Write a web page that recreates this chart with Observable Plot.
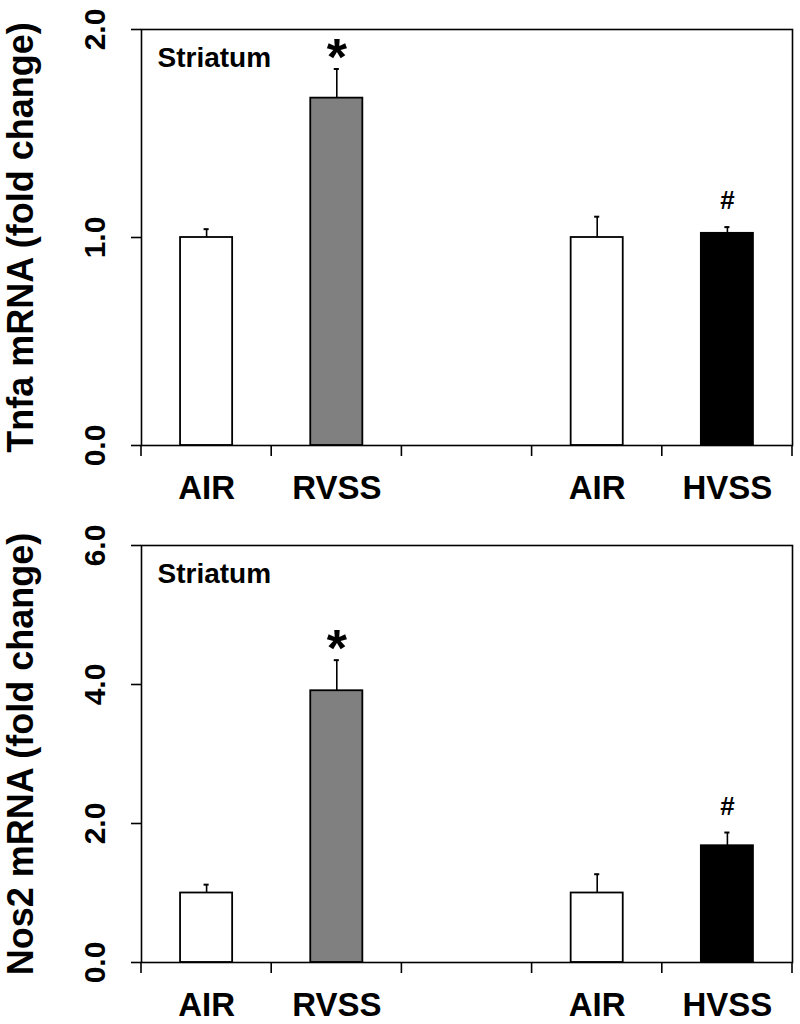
<!DOCTYPE html>
<html>
<head>
<meta charset="utf-8">
<script src="https://cdn.jsdelivr.net/npm/d3@7"></script>
<script src="https://cdn.jsdelivr.net/npm/@observablehq/plot@0.6"></script>
<style>
  html, body { margin: 0; padding: 0; background: #fff; }
  #chart { width: 800px; }
  #chart svg { display: block; }
</style>
</head>
<body>
<div id="chart"></div>
<script>
// ---- data ----
const groups = ["AIR_R", "RVSS", "GAP", "AIR_H", "HVSS"];
const groupLabels = ["AIR", "RVSS", "", "AIR", "HVSS"];
const barGroups = ["AIR_R", "RVSS", "AIR_H", "HVSS"];
const barFills = ["#ffffff", "#808080", "#ffffff", "#000000"];

const tnfaMean = [1.00, 1.67, 1.00, 1.02];
const tnfaSem  = [0.04, 0.14, 0.10, 0.03];
const nos2Mean = [1.00, 3.91, 1.00, 1.68];
const nos2Sem  = [0.12, 0.44, 0.27, 0.19];

const sigGroups  = ["RVSS", "HVSS"];
const sigSymbols = ["*", "#"];

const tnfaTicks = [0, 1, 2];
const nos2Ticks = [0, 2, 4, 6];
const tnfaDomain = [0, 2];
const nos2Domain = [0, 6];

const panelLabel = "Striatum";
const tnfaTitle = "Tnfa mRNA (fold change)";
const nos2Title = "Nos2 mRNA (fold change)";

// ---- helpers ----
const labelOf = new Map(groups.map((g, i) => [g, groupLabels[i]]));

function boundaryTicks(len) {
  return (index, scales, values, dims) => {
    const x = scales.x;
    const step = x.step(), bw = x.bandwidth();
    const dom = x.domain();
    const xs = dom.map(d => x(d) - (step - bw) / 2);
    xs.push(x(dom[dom.length - 1]) + bw + (step - bw) / 2);
    const y0 = dims.height - dims.marginBottom;
    const g = d3.create("svg:g");
    g.selectAll("line").data(xs).join("line")
      .attr("x1", d => d).attr("x2", d => d)
      .attr("y1", y0).attr("y2", y0 + len)
      .attr("stroke", "black").attr("stroke-width", 1.6);
    return g.node();
  };
}

function panel({means, sems, ticks, domain, title, marginTop, marginBottom}) {
  const data = barGroups.map((g, i) => ({group: g, mean: means[i], sem: sems[i], fill: barFills[i]}));
  const sig = sigGroups.map((g, i) => {
    const d = data.find(e => e.group === g);
    return {group: g, symbol: sigSymbols[i], top: d.mean + d.sem};
  });
  return Plot.plot({
    width: 800,
    height: 512,
    marginLeft: 141,
    marginRight: 8,
    marginTop,
    marginBottom,
    style: {fontFamily: "'Liberation Sans', Arial, sans-serif", fontWeight: "bold", color: "black", background: "white"},
    x: {type: "band", domain: groups, paddingInner: 0.6, paddingOuter: 0.3, align: 0.5, round: false, axis: null},
    y: {domain, axis: null},
    color: {type: "identity"},
    marks: [
      Plot.barY(data, {x: "group", y: "mean", fill: "fill", stroke: "black", strokeWidth: 1.8}),
      Plot.ruleX(data, {x: "group", y1: "mean", y2: d => d.mean + d.sem, stroke: "black", strokeWidth: 1.6}),
      Plot.tickY(data, {x: "group", y: d => d.mean + d.sem, stroke: "black", strokeWidth: 2, insetLeft: 23.5, insetRight: 23.5}),
      Plot.text(sig.filter(d => d.symbol === "*"), {x: "group", y: "top", text: "symbol", fontSize: 52, lineAnchor: "bottom", dy: 6}),
      Plot.text(sig.filter(d => d.symbol === "#"), {x: "group", y: "top", text: "symbol", fontSize: 26, lineAnchor: "bottom", dy: -18}),
      Plot.text([panelLabel], {frameAnchor: "top-left", dx: 16, dy: 18, lineAnchor: "top", textAnchor: "start", fontSize: 28}),
      Plot.axisY({ticks, tickFormat: d3.format(".1f"), tickSize: 10, tickPadding: 27, tickRotate: -90, fontSize: 30, strokeWidth: 1.6, label: null}),
      Plot.text([title], {frameAnchor: "left", rotate: -90, dx: -134, lineAnchor: "top", textAnchor: "middle", fontSize: 36}),
      Plot.axisX({tickSize: 0, tickPadding: 30, tickFormat: d => labelOf.get(d), fontSize: 33, label: null}),
      boundaryTicks(11),
      Plot.frame({stroke: "black", strokeWidth: 1.6})
    ]
  });
}

const chart = document.getElementById("chart");
chart.append(panel({means: tnfaMean, sems: tnfaSem, ticks: tnfaTicks, domain: tnfaDomain, title: tnfaTitle, marginTop: 29, marginBottom: 67}));
chart.append(panel({means: nos2Mean, sems: nos2Sem, ticks: nos2Ticks, domain: nos2Domain, title: nos2Title, marginTop: 33, marginBottom: 62}));
</script>
</body>
</html>
